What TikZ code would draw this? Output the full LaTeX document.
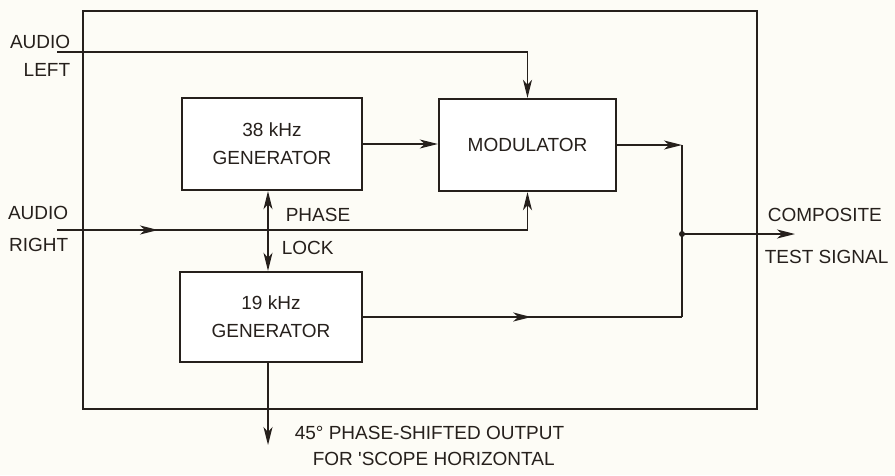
\documentclass[tikz,border=0pt]{standalone}
\usepackage{fontspec}
\setmainfont{Liberation Sans}[Ligatures=TeXOff]
\usetikzlibrary{arrows.meta,decorations.markings,calc}
\definecolor{ink}{RGB}{38,32,28}
\definecolor{paper}{RGB}{253,252,246}
\begin{document}
\begin{tikzpicture}[x=1pt,y=-1pt,
  line width=1.6pt, draw=ink, color=ink,
  >={Stealth[length=18pt,width=9pt,inset=5pt]},
  block/.style={draw=ink,line width=2.4pt,fill=white,align=center,inner sep=0pt,
    font=\fontsize{19}{28}\selectfont},
  lbl/.style={inner sep=0pt,text=ink,font=\fontsize{19}{28}\selectfont},
  midarrow/.style={postaction={decorate},
    decoration={markings,mark=at position #1 with {\arrow{>}}}}]
\fill[paper] (0,0) rectangle (895,475);
\useasboundingbox (0,0) rectangle (895,475);
% frame
\draw (83,11) rectangle (757,409);
% blocks
\node[block, minimum width=180pt, minimum height=92pt] (g38) at (272,144) {38 kHz\\GENERATOR};
\node[block, minimum width=177pt, minimum height=92pt] (mod) at (527.5,145) {MODULATOR};
\node[block, minimum width=182pt, minimum height=90pt] (g19) at (271,317) {19 kHz\\GENERATOR};
% coordinates
\coordinate (inL) at (57,52);
\coordinate (inR) at (57,230);
\coordinate (lockx) at (268,0);
\coordinate (jx) at (682,0);
\coordinate (dot) at (682,234);
\coordinate (out) at (795,234);
\coordinate (scope) at (268,445);
% connectors
\draw[->] (inL) -| (mod.north);
\draw[->, midarrow=101pt] (inR) -| (mod.south);
\draw[->] (g38.east) -- (g38.east -| mod.west);
\draw[->] (mod.east) -- (mod.east -| jx);
\draw (mod.east -| jx) -- (g19.east -| jx);
\draw[midarrow=168pt] (g19.east) -- (g19.east -| jx);
\fill[ink] (dot) circle (3pt);
\draw[->] (dot) -- (out);
\draw[<->] (g38.south -| lockx) -- (g19.north -| lockx);
\draw[->] (g19.south -| lockx) -- (scope);
% labels
\node[lbl, anchor=east, align=right] (al) at (71,56) {AUDIO\\LEFT};
\node[lbl, anchor=east] (ar1) at (69,213) {AUDIO};
\node[lbl, anchor=east] (ar2) at (69,245) {RIGHT};
\node[lbl, anchor=west] (ph) at (285,215) {PHASE};
\node[lbl, anchor=west] (lk) at (281,248) {LOCK};
\node[lbl, anchor=west] (c1) at (767,215) {COMPOSITE};
\node[lbl, anchor=west] (c2) at (764,257) {TEST SIGNAL};
\node[lbl, anchor=west] (o1) at (294,433) {45° PHASE-SHIFTED OUTPUT};
\node[lbl, anchor=west] (o2) at (312,459) {FOR 'SCOPE HORIZONTAL};
\end{tikzpicture}
\end{document}
